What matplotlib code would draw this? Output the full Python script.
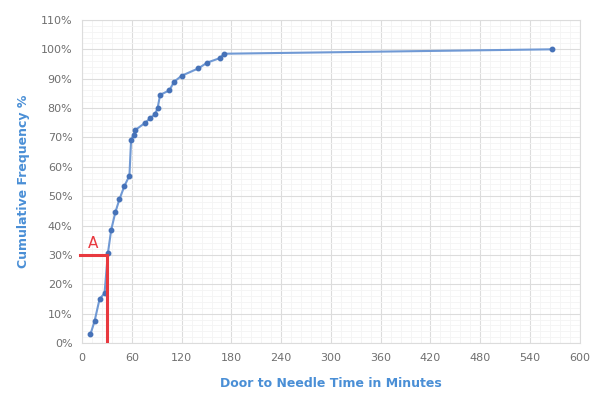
import numpy as np
import matplotlib
matplotlib.use("Agg")
import matplotlib.pyplot as plt
from matplotlib.ticker import MultipleLocator, FuncFormatter

# Datos
minutos = [10, 15, 21, 27, 31, 35, 40, 45, 51, 57, 59, 62, 64, 76, 82, 88,
           91, 94, 105, 111, 120, 140, 151, 166, 171, 566]
frec_acum = [3, 7.5, 15, 17, 30.5, 38.5, 44.5, 49, 53.5, 57, 69, 71, 72.5, 75,
             76.5, 78, 80, 84.5, 86, 89, 91, 93.5, 95.5, 97, 98.5, 100]

# Linea de referencia "A"
a_x = 30
a_y = 30

azul_linea = "#7099d4"
azul_punto = "#4672b8"
azul_texto = "#4a8fd6"
gris = "#6f6f6f"

fig = plt.figure(figsize=(5.91, 4.07), dpi=100)
ax = fig.add_axes([0.139, 0.157, 0.842, 0.794])

ax.plot(minutos, frec_acum, color=azul_linea, lw=1.5, zorder=3)
ax.plot(minutos, frec_acum, "o", color=azul_punto, ms=3.2, zorder=4)

# Lineas rojas
rojo = "#e8393f"
ax.plot([-3, a_x], [a_y, a_y], color=rojo, lw=2.2, clip_on=False, zorder=5)
ax.plot([a_x, a_x], [0, a_y], color=rojo, lw=2.2, zorder=5)
ax.text(13, a_y + 1.5, "A", color=rojo, fontsize=11, ha="center", va="bottom")

ax.set_xlim(0, 600)
ax.set_ylim(0, 110)
ax.xaxis.set_major_locator(MultipleLocator(60))
ax.yaxis.set_major_locator(MultipleLocator(10))
ax.xaxis.set_minor_locator(MultipleLocator(12))
ax.yaxis.set_minor_locator(MultipleLocator(2))
ax.yaxis.set_major_formatter(FuncFormatter(lambda v, p: f"{v:.0f}%"))

ax.grid(which="major", color="#dcdcdc", lw=0.8)
ax.grid(which="minor", color="#f4f4f4", lw=0.6)
ax.set_axisbelow(True)

for s in ax.spines.values():
    s.set_color("#dcdcdc")
    s.set_linewidth(0.8)

ax.tick_params(which="both", length=0, labelsize=8, labelcolor=gris, pad=7)

ax.set_xlabel("Door to Needle Time in Minutes", color=azul_texto,
              fontsize=9, fontweight="bold", labelpad=10)
ax.set_ylabel("Cumulative Frequency %", color=azul_texto,
              fontsize=9, fontweight="bold", labelpad=8)

fig.savefig("out.png", dpi=100, facecolor="white")
